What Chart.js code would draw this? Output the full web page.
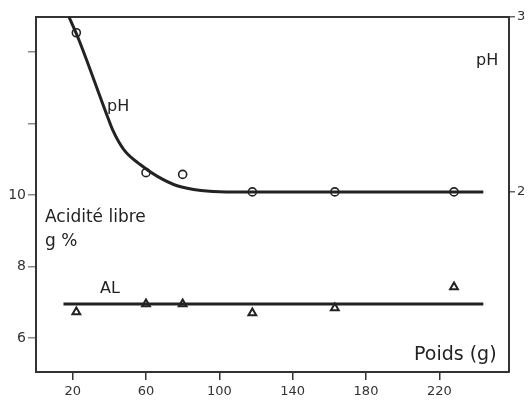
<!DOCTYPE html>
<html>
<head>
<meta charset="utf-8">
<script src="https://cdn.jsdelivr.net/npm/chart.js@4/dist/chart.umd.min.js"></script>
<style>
  html, body { margin: 0; padding: 0; background: #fff; }
</style>
</head>
<body>
<canvas id="chart" width="531" height="406"></canvas>
<script>
// pH measurements (circles)
const phPoids = [22, 60, 80, 118, 163, 228];
const phValues = [2.91, 2.11, 2.10, 2.0, 2.0, 2.0];

// hand-drawn pH curve
const phCurvePoids = [18, 23, 39, 42, 48, 57, 66, 77, 90, 104, 244];
const phCurveValues = [3.0, 2.88, 2.43, 2.35, 2.24, 2.155, 2.09, 2.035, 2.008, 2.0, 2.0];

// free acidity (triangles), g %
const alPoids = [22, 60, 80, 118, 163, 228];
const alValues = [6.73, 6.95, 6.95, 6.70, 6.84, 7.43];

// AL mean line
const alLinePoids = [15, 244];
const alLineValues = [6.95, 6.95];

const xTicks = [20, 60, 100, 140, 180, 220];
const leftTicks = [6, 8, 10, 12, 14];
const leftLabels = [6, 8, 10];
const rightTicks = [2, 3];

function pts(xs, ys) {
  return xs.map((x, i) => ({ x: x, y: ys[i] }));
}

const ink = "#222";
const axisCol = "#333";

const textPlugin = {
  id: "texts",
  afterDraw(chart) {
    const ctx = chart.ctx;
    ctx.save();
    ctx.fillStyle = ink;
    ctx.textAlign = "left";
    ctx.textBaseline = "alphabetic";
    ctx.font = "16px 'DejaVu Sans'";
    ctx.fillText("pH", 107, 111);
    ctx.fillText("pH", 476, 65);
    ctx.fillText("AL", 100, 293);
    ctx.font = "17px 'DejaVu Sans'";
    ctx.fillText("Acidité libre", 45, 222);
    ctx.fillText("g %", 45, 246);
    ctx.font = "19px 'DejaVu Sans'";
    ctx.fillText("Poids (g)", 414, 360);
    ctx.restore();
  }
};

new Chart(document.getElementById("chart"), {
  type: "scatter",
  data: {
    datasets: [
      {
        data: pts(phCurvePoids, phCurveValues),
        yAxisID: "y2",
        showLine: true,
        borderColor: ink,
        borderWidth: 3,
        pointRadius: 0,
        cubicInterpolationMode: "monotone"
      },
      {
        data: pts(alLinePoids, alLineValues),
        yAxisID: "y",
        showLine: true,
        borderColor: ink,
        borderWidth: 3,
        pointRadius: 0
      },
      {
        data: pts(phPoids, phValues),
        yAxisID: "y2",
        pointStyle: "circle",
        pointRadius: 4,
        pointBackgroundColor: "#fff",
        pointBorderColor: ink,
        pointBorderWidth: 1.6
      },
      {
        data: pts(alPoids, alValues),
        yAxisID: "y",
        pointStyle: "triangle",
        pointRadius: 4.5,
        pointBackgroundColor: "#fff",
        pointBorderColor: ink,
        pointBorderWidth: 2
      }
    ]
  },
  options: {
    responsive: false,
    animation: false,
    devicePixelRatio: 1,
    layout: { padding: { top: 17, left: 0, right: 0, bottom: 0 } },
    plugins: {
      legend: { display: false },
      tooltip: { enabled: false }
    },
    scales: {
      x: {
        type: "linear",
        position: "bottom",
        min: 0,
        max: 258,
        afterBuildTicks: (s) => { s.ticks = xTicks.map((v) => ({ value: v })); },
        afterFit: (s) => { s.height = 34; },
        grid: { drawOnChartArea: false, drawTicks: true, tickLength: 8, color: axisCol, lineWidth: 1.5 },
        border: { display: true, color: axisCol, width: 2 },
        ticks: { color: "#333", font: { family: "DejaVu Sans", size: 13 }, padding: 4, maxRotation: 0 }
      },
      xTop: {
        type: "linear",
        position: "top",
        min: 0,
        max: 258,
        afterFit: (s) => { s.height = 0; },
        grid: { display: false },
        border: { display: true, color: axisCol, width: 2 },
        ticks: { display: false }
      },
      y: {
        type: "linear",
        position: "left",
        min: 5.05,
        max: 14.98,
        afterBuildTicks: (s) => { s.ticks = leftTicks.map((v) => ({ value: v })); },
        afterFit: (s) => { s.width = 36; },
        grid: { drawOnChartArea: false, drawTicks: true, tickLength: 8, color: "#888", lineWidth: 1.5 },
        border: { display: true, color: axisCol, width: 2 },
        ticks: {
          color: "#333",
          font: { family: "DejaVu Sans", size: 14 },
          padding: 2,
          callback: (v) => (leftLabels.includes(v) ? String(v) : "")
        }
      },
      y2: {
        type: "linear",
        position: "right",
        min: 0.97,
        max: 3.0,
        afterBuildTicks: (s) => { s.ticks = rightTicks.map((v) => ({ value: v })); },
        afterFit: (s) => { s.width = 22; },
        grid: { drawOnChartArea: false, drawTicks: true, tickLength: 6, color: "#666", lineWidth: 1.5 },
        border: { display: true, color: axisCol, width: 2 },
        ticks: { color: "#333", font: { family: "DejaVu Sans", size: 13 }, padding: 2 }
      }
    }
  },
  plugins: [textPlugin]
});
</script>
</body>
</html>
